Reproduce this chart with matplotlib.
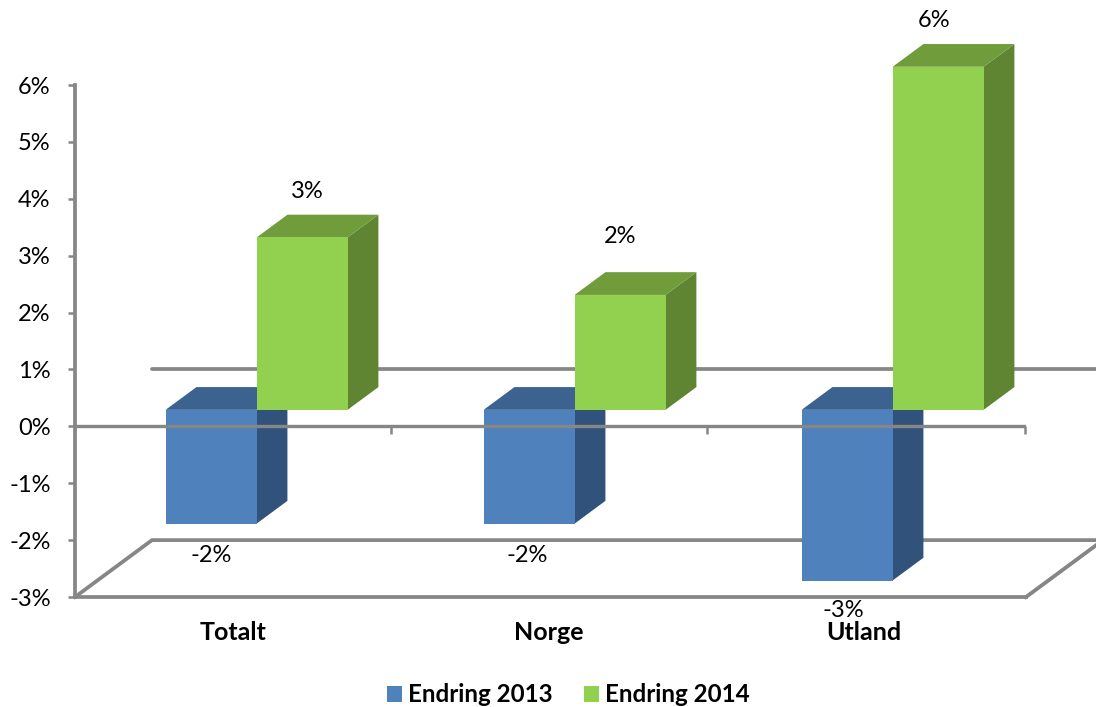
import matplotlib
matplotlib.use("Agg")
import matplotlib.pyplot as plt
from matplotlib.patches import Polygon, Patch

plt.rcParams['font.family'] = ['Lato', 'DejaVu Sans']

categories = ["Totalt", "Norge", "Utland"]
endring_2013 = [-2.0, -2.0, -3.0]
endring_2014 = [3.03, 2.02, 6.03]
y_ticks = [-3, -2, -1, 0, 1, 2, 3, 4, 5, 6]
y_tick_labels = [f"{v}%" for v in y_ticks]
series_names = ["Endring 2013", "Endring 2014"]

W, H = 1096, 707
fig = plt.figure(figsize=(W / 100, H / 100), dpi=100)
ax = fig.add_axes([75 / W, 1 - 597 / H, (1026 - 75) / W, (597 - 85) / H])
ax.set_xlim(-0.5, 2.5)
ax.set_ylim(-3, 6)

GRAY = "#868686"
LW = 2.7
# oblique depth of the 3-D box, in data units
DEPTH_X, DEPTH_Y = 0.243, 1.0
F0, F1 = 0.3, 0.7          # front and back of bars as fraction of depth
BASE = 0.29                # height of the bars' base on the front plane
BAR_W = 0.287
BAR_STEP = 318 / 317       # bars are spaced a little wider than the axis
LABEL_POS = [0, 0.994, 1.988]
SEPARATORS = [0.497, 1.494, 2.497]

for s in ("top", "right"):
    ax.spines[s].set_visible(False)
for s in ("left", "bottom"):
    ax.spines[s].set_color(GRAY)
    ax.spines[s].set_linewidth(LW)
ax.set_xticks(LABEL_POS, categories, fontsize=18, fontweight="bold")
ax.tick_params(axis="x", length=0, pad=17.5)
ax.set_yticks(y_ticks, y_tick_labels, fontsize=17)
ax.tick_params(axis="y", length=5, width=1.8, color=GRAY, pad=12.5)

# back wall / floor
x0, x1 = ax.get_xlim()
ax.plot([x0 + DEPTH_X, x1 + DEPTH_X], [DEPTH_Y, DEPTH_Y], color=GRAY, lw=LW,
        clip_on=False, zorder=1, solid_capstyle="round")
ax.plot([x0, x0 + DEPTH_X, x1 + DEPTH_X, x1],
        [-3, -3 + DEPTH_Y, -3 + DEPTH_Y, -3], color=GRAY, lw=LW,
        clip_on=False, zorder=1, solid_joinstyle="miter")
ax.plot([x1, x1 + DEPTH_X], [-3, -3 + DEPTH_Y], color=GRAY, lw=LW * 0.8,
        clip_on=False, zorder=1)


def box(cat, side, value, front, dark, mid, z):
    left = cat * BAR_STEP + F0 * DEPTH_X + (0 if side else -BAR_W)
    base = BASE
    ax.bar(left, value, BAR_W, bottom=base, align="edge", color=front,
           zorder=z + 0.2, clip_on=False)
    right = left + BAR_W
    top = base + value
    dx = (F1 - F0) * DEPTH_X
    dy = (F1 - F0) * DEPTH_Y
    ax.add_patch(Polygon([(right, base), (right + dx, base + dy),
                          (right + dx, top + dy), (right, top)],
                         closed=True, fc=dark, ec="none", zorder=z, clip_on=False))
    high = max(base, top)
    ax.add_patch(Polygon([(left, high), (left + dx, high + dy),
                          (right + dx, high + dy), (right, high)],
                         closed=True, fc=mid, ec="none", zorder=z + 0.1, clip_on=False))
    return left + BAR_W / 2


label_offsets_13 = [(0, -31.5), (-2, -31.5), (-4, -30)]
label_offsets_14 = [(5, 45.5), (0, 58), (-4, 46)]

for i, (a, b) in enumerate(zip(endring_2013, endring_2014)):
    xa = box(i, 0, a, "#4F81BD", "#31527A", "#3C6290", 2)
    xb = box(i, 1, b, "#92D050", "#5F8532", "#719C3C", 3)
    ax.annotate(f"{round(a)}%", (xa, BASE + a), xytext=label_offsets_13[i],
                textcoords="offset pixels", ha="center", va="center",
                fontsize=17, annotation_clip=False, zorder=6)
    ax.annotate(f"{round(b)}%", (xb, BASE + b), xytext=label_offsets_14[i],
                textcoords="offset pixels", ha="center", va="center",
                fontsize=17, annotation_clip=False, zorder=6)

# zero line with category separators
ax.axhline(0, color=GRAY, lw=LW * 0.9, zorder=5)
ax.vlines(SEPARATORS, -0.14, 0, color=GRAY, lw=1.8, zorder=5, clip_on=False)
ax.vlines([-0.5], -0.08, 0, color=GRAY, lw=1.8, zorder=5, clip_on=False)

handles = [Patch(fc="#4F81BD", label=series_names[0]),
           Patch(fc="#92D050", label=series_names[1])]
fig.legend(handles=handles, loc="center", bbox_to_anchor=(568.5 / W, 1 - 695 / H),
           ncol=2, frameon=False, prop={"size": 17.4, "weight": "bold"},
           handlelength=0.62, handleheight=0.62, handletextpad=0.25,
           columnspacing=1.32, borderpad=0)

fig.savefig("out.png", dpi=100)
